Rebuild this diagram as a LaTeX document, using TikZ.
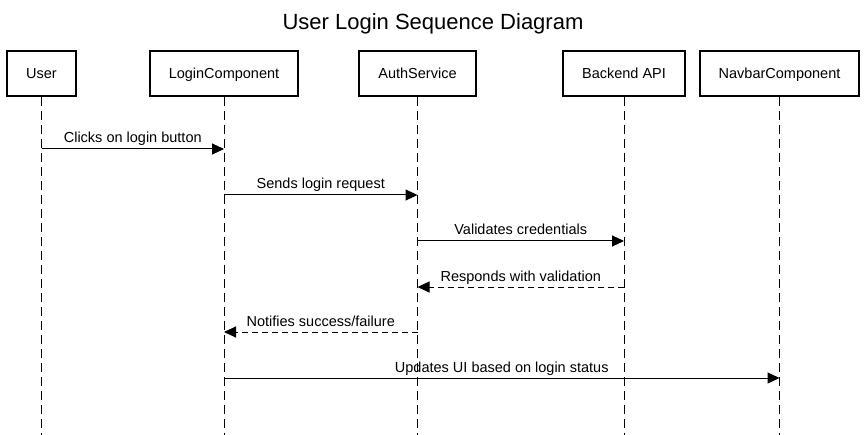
\documentclass[tikz,border=0pt]{standalone}
\usepackage{fontspec}
\setmainfont{Liberation Sans}
\usetikzlibrary{arrows.meta,positioning,calc}
\tikzset{
  actor/.style={draw, line width=2pt, minimum height=45pt, inner xsep=19pt,
    text height=10.5pt, text depth=0pt, font=\fontsize{14.5}{16}\selectfont},
  lifeline/.style={line width=1pt, dash pattern=on 9pt off 5pt},
  msg/.style={-{Triangle[length=12pt,width=11pt]}, line width=1pt},
  reply/.style={msg, dash pattern=on 6pt off 4pt},
  lbl/.style={anchor=base, yshift=6pt, font=\fontsize{14.5}{16}\selectfont}
}

\begin{document}
\begin{tikzpicture}[x=1pt,y=-1pt]
\useasboundingbox (0,0) rectangle (866,435);

\node[anchor=base] (title) at (433,30) {\fontsize{22}{26}\selectfont User Login Sequence Diagram};

% participants
\node[actor] (user) at (41.5,73.5) {User};
\node[actor] (login) at (224,73.5) {LoginComponent};
\node[actor] (auth) at (417.5,73.5) {AuthService};
\node[actor] (api) at (624,73.5) {Backend API};
\node[actor] (navbar) at (779.5,73.5) {NavbarComponent};

\coordinate (end) at (0,435);

\foreach \p in {user,login,auth,api,navbar}
  \draw[lifeline] (\p.south) -- (\p.south |- end);

% messages
\draw[msg] (user |- 0,149) -- (login |- 0,149) node[lbl,midway] {Clicks on login button};
\draw[msg] (login |- 0,195) -- (auth |- 0,195) node[lbl,midway] {Sends login request};
\draw[msg] (auth |- 0,241) -- (api |- 0,241) node[lbl,midway] {Validates credentials};
\draw[reply] (api |- 0,287) -- (auth |- 0,287) node[lbl,midway] {Responds with validation};
\draw[reply] (auth |- 0,332) -- (login |- 0,332) node[lbl,midway] {Notifies success/failure};
\draw[msg] (login |- 0,378) -- (navbar |- 0,378) node[lbl,midway] {Updates UI based on login status};

\end{tikzpicture}
\end{document}
